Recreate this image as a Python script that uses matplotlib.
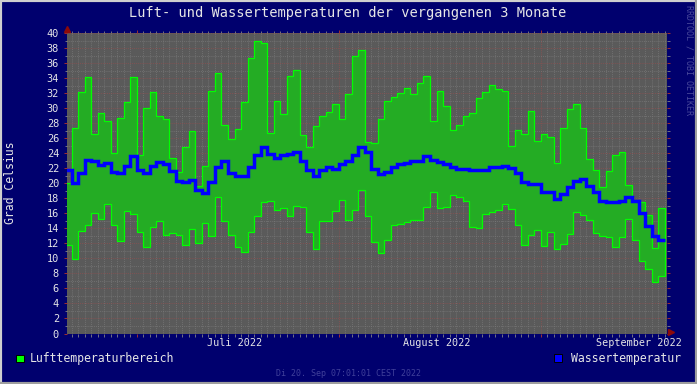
import numpy as np
import matplotlib
matplotlib.use("Agg")
import matplotlib.pyplot as plt
import matplotlib.dates as mdates
from matplotlib.patches import Rectangle
from matplotlib.lines import Line2D
from datetime import datetime, timedelta

# Tageswerte, erster Tag 20.06.2022 (nur teilweise sichtbar)
first_day = datetime(2022, 6, 20)
t_start = datetime(2022, 6, 20, 7, 1, 1)
t_end = datetime(2022, 9, 20, 7, 1, 1)

luft_max = [20.0, 27.4, 32.2, 34.2, 26.6, 29.3, 28.3, 24.0, 28.7, 30.8,
            34.2, 23.8, 30.0, 32.2, 29.0, 28.6, 23.4, 21.5, 24.8, 26.9,
            19.6, 22.3, 32.3, 34.7, 27.8, 25.9, 27.2, 30.8, 36.7, 39.0,
            38.7, 26.7, 30.9, 29.2, 34.3, 35.1, 26.4, 24.8, 27.6, 29.0,
            29.5, 30.6, 28.6, 31.9, 37.0, 37.8, 25.5, 25.4, 28.6, 30.9,
            31.5, 32.0, 32.7, 31.9, 33.4, 34.3, 28.3, 32.3, 30.3, 27.1,
            27.8, 29.0, 29.4, 31.3, 32.2, 33.1, 32.6, 32.3, 24.9, 27.1,
            26.6, 29.6, 25.6, 26.6, 26.2, 22.7, 27.4, 29.9, 30.5, 27.4,
            23.2, 21.8, 19.5, 21.6, 23.8, 24.1, 19.8, 17.6, 17.5, 15.8,
            11.4, 16.7]

luft_min = [11.8, 9.9, 13.6, 14.5, 16.0, 15.2, 17.3, 14.4, 12.3, 16.3,
            15.9, 13.5, 11.5, 14.2, 15.0, 13.1, 13.4, 13.1, 11.8, 13.9,
            12.0, 14.7, 13.0, 18.2, 15.0, 13.1, 11.5, 10.8, 13.5, 15.6,
            17.5, 17.6, 16.4, 16.7, 15.7, 17.0, 16.8, 13.5, 11.2, 15.0,
            15.0, 16.3, 17.8, 15.1, 16.4, 19.1, 15.6, 12.2, 10.7, 12.4,
            14.4, 14.6, 14.9, 15.1, 15.1, 16.8, 18.8, 16.7, 16.9, 18.4,
            18.2, 17.7, 14.2, 14.0, 15.9, 16.2, 16.4, 17.2, 16.6, 14.4,
            11.8, 13.1, 13.8, 11.6, 13.5, 11.3, 11.9, 13.2, 16.2, 15.8,
            15.1, 13.4, 13.0, 12.8, 11.5, 12.8, 15.3, 12.4, 9.6, 8.6,
            6.8, 7.6]

wasser = [21.8, 20.0, 21.4, 23.1, 23.0, 22.4, 22.7, 21.5, 21.4, 22.3,
          23.6, 21.7, 21.3, 22.3, 22.8, 22.6, 21.6, 20.3, 20.1, 20.4,
          19.1, 18.7, 20.1, 22.2, 23.0, 21.4, 20.9, 21.0, 22.2, 23.8,
          24.8, 23.9, 23.4, 23.7, 23.9, 24.2, 23.0, 21.8, 20.9, 21.8,
          22.1, 21.9, 22.5, 23.0, 23.7, 24.8, 24.2, 21.9, 21.2, 21.5,
          22.2, 22.5, 22.7, 22.9, 23.0, 23.6, 23.1, 22.8, 22.5, 22.1,
          21.9, 21.9, 21.8, 21.8, 21.8, 22.1, 22.2, 22.3, 22.0, 21.3,
          20.2, 19.9, 19.9, 18.9, 18.9, 17.9, 18.6, 19.5, 20.3, 20.5,
          19.7, 18.9, 17.7, 17.5, 17.5, 17.7, 18.2, 17.6, 16.1, 14.3,
          13.0, 12.5]

month_starts = [datetime(2022, 7, 1), datetime(2022, 8, 1), datetime(2022, 9, 1)]
month_labels = ["Juli 2022", "August 2022", "September 2022"]

BG = "#00006e"
PLOT_BG = "#5a5a5a"
TXT = "#e6e6e6"
MONO = "DejaVu Sans Mono"

W, H = 697, 384
fig = plt.figure(figsize=(W / 100, H / 100), dpi=100, facecolor=BG)

# plot area in pixels: x 67..666.5, y 33..333.5
ax = fig.add_axes([67 / W, (H - 333.5) / H, 599.5 / W, 300.5 / H])
ax.set_facecolor(PLOT_BG)

edges = mdates.date2num([first_day + timedelta(days=i) for i in range(len(luft_max) + 1)])

ax.stairs(luft_max, edges, baseline=luft_min, fill=True, color="#24ac24", lw=0, zorder=2)
ax.stairs(luft_max, edges, baseline=luft_min, fill=False, color="#00ff00", lw=0.9, zorder=3)
ax.stairs(wasser, edges, baseline=None, color="#0000ff", lw=2.5, zorder=4)

ax.set_xlim(mdates.date2num(t_start), mdates.date2num(t_end))
ax.set_ylim(0, 40)

# grid
ax.set_yticks(np.arange(0, 41, 2))
ax.set_yticks(np.arange(0, 41, 1), minor=True)
ax.xaxis.set_major_locator(mdates.MonthLocator())
ax.xaxis.set_minor_locator(mdates.DayLocator())
ax.set_axisbelow(True)
ax.grid(which="minor", color="#7c7c7c", linestyle=(0, (1, 1.5)), lw=0.55)
ax.grid(which="major", axis="y", color="#8e5050", linestyle=(0, (1, 1.5)), lw=0.6)
# only the August/September month lines show in the original
for m in month_starts[1:]:
    ax.axvline(mdates.date2num(m), color="#8e5050", linestyle=(0, (1, 1.5)), lw=0.6, zorder=0.5)

ax.tick_params(which="both", direction="out", top=True, right=True,
               labelbottom=False, labeltop=False, labelright=False)
ax.tick_params(which="major", length=2.2, width=0.7, color="#a03030")
ax.tick_params(which="minor", length=1.8, width=0.6, color="#858585")
ax.tick_params(axis="y", which="major", labelcolor=TXT, labelsize=7.4, pad=3.6)
for lab in ax.get_yticklabels():
    lab.set_family(MONO)
for sp in ax.spines.values():
    sp.set_visible(False)

# month labels, centred mid-month
xtrans = ax.get_xaxis_transform()
for m, lab in zip(month_starts, month_labels):
    ax.text(mdates.date2num(m + timedelta(days=15)), -0.015, lab, transform=xtrans,
            ha="center", va="top", color=TXT, fontsize=7.3, family=MONO)

# axis arrows
ax.plot([0], [1.013], marker="^", color="#8c0a0a", ms=3.8, transform=ax.transAxes,
        clip_on=False, zorder=6)
ax.plot([1.0075], [0.005], marker=">", color="#8c0a0a", ms=3.8, transform=ax.transAxes,
        clip_on=False, zorder=6)

# texts
fig.text(348 / W, 1 - 13 / H, "Luft- und Wassertemperaturen der vergangenen 3 Monate",
         ha="center", va="center", color=TXT, fontsize=9.8, family=MONO)
fig.text(11 / W, 1 - 183 / H, "Grad Celsius", rotation=90, ha="center", va="center",
         color=TXT, fontsize=8.3, family=MONO)
fig.text(689 / W, 1 - 5 / H, "RRDTOOL / TOBI OETIKER", rotation=-90, ha="center", va="top",
         color="#4a4a9c", fontsize=6.0, family=MONO)
fig.text(348 / W, 1 - 373 / H, "Di 20. Sep 07:01:01 CEST 2022", ha="center", va="center",
         color="#40409a", fontsize=6.0, family=MONO)

# legend
fig.patches.append(Rectangle((16 / W, 1 - 362 / H), 7.5 / W, 7.5 / H, transform=fig.transFigure,
                             facecolor="#00ff00", edgecolor="black", lw=0.7))
fig.text(30 / W, 1 - 358.5 / H, "Lufttemperaturbereich", ha="left", va="center",
         color=TXT, fontsize=8.3, family=MONO)
fig.patches.append(Rectangle((554 / W, 1 - 362 / H), 8 / W, 8 / H, transform=fig.transFigure,
                             facecolor="#0000ff", edgecolor="black", lw=0.7))
fig.text(681 / W, 1 - 358.5 / H, "Wassertemperatur", ha="right", va="center",
         color=TXT, fontsize=8.3, family=MONO)

# frame
fig.lines.append(Line2D([0, 0, 1], [0, 1, 1], transform=fig.transFigure,
                        color="#cfcfcf", lw=3))
fig.lines.append(Line2D([0, 1, 1], [0, 0, 1], transform=fig.transFigure,
                        color="#9e9e9e", lw=3))

fig.savefig("out.png", dpi=100, facecolor=BG)
